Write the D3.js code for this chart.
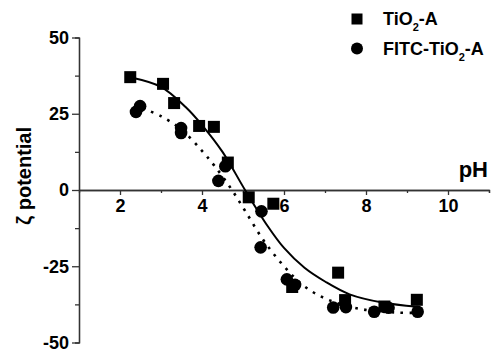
<!DOCTYPE html>
<html>
<head>
<meta charset="utf-8">
<script src="https://cdn.jsdelivr.net/npm/d3@7"></script>
<style>
  body { margin: 0; background: #fff; }
  text { font-family: "Liberation Sans", Arial, sans-serif; font-weight: bold; }
</style>
</head>
<body>
<div id="chart"></div>
<script>
// measured points, pH vs zeta potential (mV)
var tio2 = [[2.25,37.0],[3.05,34.8],[3.32,28.5],[3.93,21.0],[4.29,20.7],[4.63,9.0],
  [5.14,-2.4],[5.74,-4.5],[6.2,-31.8],[7.32,-27.1],[7.49,-36.1],[8.45,-38.2],[9.24,-36.0]];
var fitc = [[2.39,25.6],[2.49,27.5],[3.49,20.3],[3.49,18.7],[4.4,3.0],[4.57,7.8],
  [5.45,-7.0],[5.43,-18.8],[6.07,-29.3],[6.27,-31.1],[7.2,-38.5],[7.51,-38.4],
  [8.2,-39.9],[8.55,-38.6],[9.26,-39.9]];
// fitted curves
var tio2Fit = [[2.3,36.8],[3.0,33.8],[3.6,27.2],[4.0,21.3],[4.5,12.5],[5.05,0],[5.6,-11.8],
  [6.0,-19],[6.5,-25.5],[7.0,-30],[7.6,-34.2],[8.4,-36.9],[9.25,-38.3]];
var fitcFit = [[2.55,26.8],[3.0,24.2],[3.5,19.8],[4.0,12.8],[4.3,8.0],[4.7,0.6],[5.05,-6.8],
  [5.5,-16.5],[6.0,-25],[6.5,-31.6],[7.1,-36.1],[7.9,-39.1],[8.8,-40.2],[9.25,-40.3]];

var xMajor = [2,4,6,8,10], xMinor = [3,5,7,9,11];
var yMajor = [-50,-25,0,25,50], yMinor = [-37.5,-12.5,12.5,37.5];

var svg = d3.select("#chart").append("svg").attr("width", 494).attr("height", 356);

var x = d3.scaleLinear().domain([1, 11]).range([79, 489]);
var y = d3.scaleLinear().domain([-50, 50]).range([342.5, 37.5]);

const styleAxis = g => {
  g.select(".domain").attr("stroke", "#333").attr("stroke-width", 1.3);
  g.selectAll("line").attr("stroke", "#333").attr("stroke-width", 1.3);
  g.selectAll("text").attr("fill", "#000").style("font-size", "18px");
};
const plain = d => String(d); // plain hyphen for negatives

// minor ticks
svg.append("g").attr("transform", "translate(0," + y(0) + ")")
  .call(d3.axisBottom(x).tickValues(xMinor).tickSize(3).tickFormat(""))
  .call(styleAxis);
svg.append("g").attr("transform", "translate(" + x(1) + ",0)")
  .call(d3.axisLeft(y).tickValues(yMinor).tickSize(4).tickFormat(""))
  .call(styleAxis);

// major ticks
svg.append("g").attr("transform", "translate(0," + y(0) + ")")
  .call(d3.axisBottom(x).tickValues(xMajor).tickSize(5).tickPadding(4).tickSizeOuter(0).tickFormat(plain))
  .call(styleAxis);
svg.append("g").attr("transform", "translate(" + x(1) + ",0)")
  .call(d3.axisLeft(y).tickValues(yMajor).tickSize(7).tickPadding(3).tickSizeOuter(0).tickFormat(plain))
  .call(styleAxis);

svg.append("text").attr("x", 488).attr("y", 177).attr("text-anchor", "end")
  .style("font-size", "22px").text("pH");
svg.append("text").attr("transform", "translate(31,176) rotate(-90)")
  .attr("text-anchor", "middle").style("font-size", "20px").text("ζ potential");

var line = d3.line().x(d => x(d[0])).y(d => y(d[1])).curve(d3.curveCatmullRom);

svg.append("path").datum(tio2Fit).attr("d", line)
  .attr("fill", "none").attr("stroke", "#000").attr("stroke-width", 2);
svg.append("path").datum(fitcFit).attr("d", line)
  .attr("fill", "none").attr("stroke", "#000").attr("stroke-width", 2.6)
  .attr("stroke-dasharray", "2.6,6.5");

svg.append("g").selectAll("rect").data(tio2).enter().append("rect")
  .attr("x", d => x(d[0]) - 6).attr("y", d => y(d[1]) - 6)
  .attr("width", 12).attr("height", 12).attr("fill", "#000");
svg.append("g").selectAll("circle").data(fitc).enter().append("circle")
  .attr("cx", d => x(d[0])).attr("cy", d => y(d[1])).attr("r", 6.3).attr("fill", "#000");

// legend
var leg = svg.append("g");
leg.append("rect").attr("x", 351.5).attr("y", 13.5).attr("width", 11).attr("height", 11).attr("fill", "#000");
leg.append("circle").attr("cx", 357).attr("cy", 48.5).attr("r", 6).attr("fill", "#000");
const legText = (yy, pre) => {
  var t = leg.append("text").attr("x", 383).attr("y", yy).style("font-size", "18px");
  t.append("tspan").text(pre + "TiO");
  t.append("tspan").attr("dy", 6).style("font-size", "11px").text("2");
  t.append("tspan").attr("dy", -6).text("-A");
};
legText(25, "");
legText(55, "FITC-");
</script>
</body>
</html>
